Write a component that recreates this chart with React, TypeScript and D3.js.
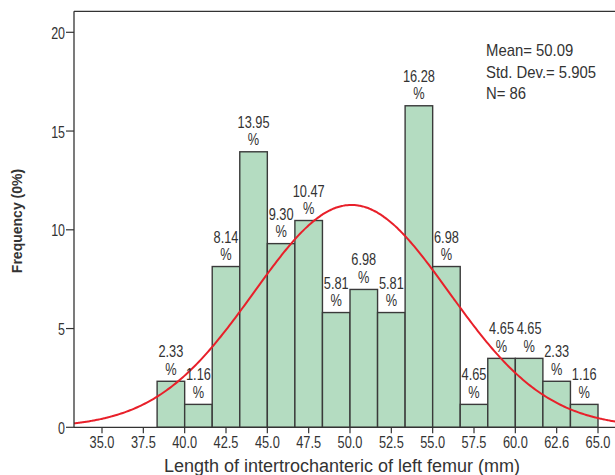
import React from "react";
import * as d3 from "d3";

const binStart = 38.3333;
const binWidth = 5 / 3;
const barHeights = [2.33, 1.16, 8.14, 13.95, 9.3, 10.47, 5.81, 6.98, 5.81, 16.28, 8.14, 1.16, 3.49, 3.49, 2.33, 1.16];
const barLabels = ["2.33", "1.16", "8.14", "13.95", "9.30", "10.47", "5.81", "6.98", "5.81", "16.28", "6.98", "4.65", "4.65", "4.65", "2.33", "1.16"];
const xTickValues = [35, 37.5, 40, 42.5, 45, 47.5, 50, 52.5, 55, 57.5, 60, 62.5, 65];
const xTickLabels = ["35.0", "37.5", "40.0", "42.5", "45.0", "47.5", "50.0", "52.5", "55.0", "57.5", "60.0", "62.6", "65.0"];
const yTickValues = [0, 5, 10, 15, 20];
const statsLines = ["Mean= 50.09", "Std. Dev.= 5.905", "N= 86"];
const mean = 50.09;
const sd = 5.905;

const W = 615;
const H = 475;
const FONT = "'Liberation Sans', Arial, sans-serif";

function NText(props: {
  x: number;
  y: number;
  sx: number;
  size: number;
  anchor?: string;
  children: React.ReactNode;
}) {
  return (
    <text
      transform={`translate(${props.x},${props.y}) scale(${props.sx},1)`}
      fontSize={props.size}
      textAnchor={props.anchor || "start"}
      fill="#333"
    >
      {props.children}
    </text>
  );
}

export default function App() {
  const left = 74;
  const right = 615;
  const top = 11.3;
  const bottom = 427.3;
  const x = d3.scaleLinear().domain([35, 65]).range([102, 598]);
  const y = d3.scaleLinear().domain([0, 20]).range([bottom, 32.3]);

  const xMin = x.invert(left);
  const xMax = x.invert(right + 2);
  const curvePts = d3.range(0, 301).map((i) => {
    const v = xMin + ((xMax - xMin) * i) / 300;
    const z = (v - mean) / sd;
    const pdf = Math.exp(-0.5 * z * z) / (sd * Math.sqrt(2 * Math.PI));
    return [v, pdf * binWidth * 100] as [number, number];
  });
  const line = d3
    .line<[number, number]>()
    .x((d) => x(d[0]))
    .y((d) => y(d[1]))
    .curve(d3.curveBasis);

  return (
    <svg width={W} height={H} style={{ position: "absolute", left: 0, top: 0 }} fontFamily={FONT}>
      <rect x={0} y={0} width={W} height={H} fill="#fff" />
      {barHeights.map((h, i) => {
        const x0 = x(binStart + i * binWidth);
        const x1 = x(binStart + (i + 1) * binWidth);
        return (
          <rect
            key={i}
            x={x0}
            y={y(h)}
            width={x1 - x0}
            height={bottom - y(h)}
            fill="#b4dcc1"
            stroke="#3a3a3a"
            strokeWidth={1.4}
          />
        );
      })}
      <clipPath id="plotclip">
        <rect x={left} y={top} width={right - left} height={bottom - top} />
      </clipPath>
      <path d={line(curvePts) || ""} fill="none" stroke="#e8202a" strokeWidth={2} clipPath="url(#plotclip)" />
      {barLabels.map((lab, i) => {
        const cx = x(binStart + (i + 0.5) * binWidth);
        const ty = y(barHeights[i]);
        return (
          <g key={i}>
            <NText x={cx} y={ty - 24} sx={0.8} size={16} anchor="middle">{lab}</NText>
            <NText x={cx} y={ty - 6.5} sx={0.8} size={16} anchor="middle">%</NText>
          </g>
        );
      })}
      <line x1={left} x2={right} y1={top} y2={top} stroke="#333" strokeWidth={1.3} />
      <line x1={left} x2={left} y1={top} y2={bottom} stroke="#333" strokeWidth={1.3} />
      <line x1={left} x2={right} y1={bottom} y2={bottom} stroke="#333" strokeWidth={1.3} />
      {yTickValues.map((v) => (
        <g key={v}>
          <line x1={left - 8} x2={left} y1={y(v)} y2={y(v)} stroke="#333" strokeWidth={1.2} />
          <NText x={left - 9} y={y(v) + 6.5} sx={0.78} size={16} anchor="end">{v}</NText>
        </g>
      ))}
      {xTickValues.map((v, i) => (
        <g key={v}>
          <line x1={x(v)} x2={x(v)} y1={bottom} y2={bottom + 6} stroke="#333" strokeWidth={1.2} />
          <NText x={x(v)} y={bottom + 20.5} sx={0.8} size={16} anchor="middle">{xTickLabels[i]}</NText>
        </g>
      ))}
      <text x={342} y={471.5} fontSize={18} fill="#333" textAnchor="middle">
        Length of intertrochanteric of left femur (mm)
      </text>
      <text
        transform={`translate(22, 221) rotate(-90)`}
        fontSize={14}
        fontWeight="bold"
        fill="#333"
        textAnchor="middle"
      >
        Frequency (0%)
      </text>
      {statsLines.map((s, i) => (
        <NText key={i} x={486} y={56 + i * 21.5} sx={0.93} size={16}>{s}</NText>
      ))}
    </svg>
  );
}
